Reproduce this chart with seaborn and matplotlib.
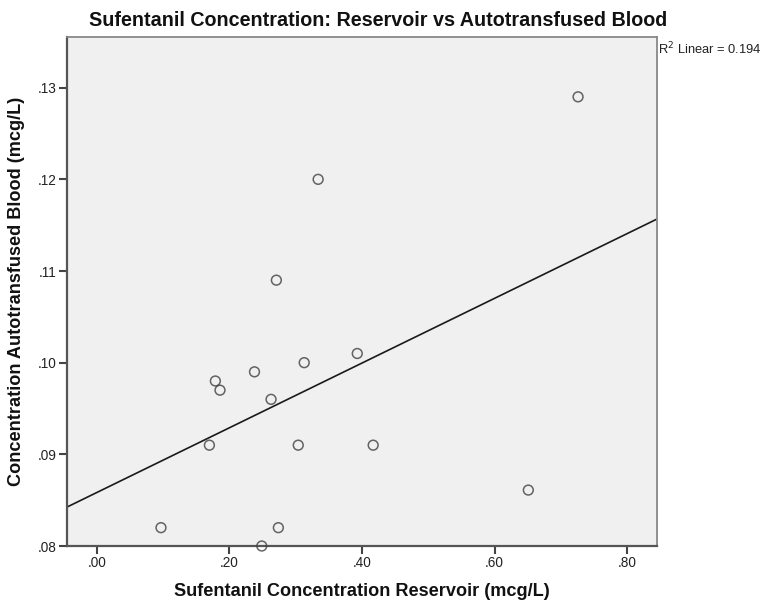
import matplotlib
matplotlib.use("Agg")
import matplotlib.pyplot as plt
import numpy as np
import pandas as pd
import seaborn as sns
from matplotlib.ticker import FuncFormatter

# Sufentanil concentrations (mcg/L)
reservoir = [0.097, 0.170, 0.179, 0.186, 0.238, 0.249, 0.263, 0.271,
             0.274, 0.304, 0.313, 0.334, 0.393, 0.417, 0.651, 0.726]
autotransfused = [0.082, 0.091, 0.098, 0.097, 0.099, 0.080, 0.096, 0.109,
                  0.082, 0.091, 0.100, 0.120, 0.101, 0.091, 0.0861, 0.129]

x_ticks = [0.0, 0.2, 0.4, 0.6, 0.8]
y_ticks = [0.08, 0.09, 0.10, 0.11, 0.12, 0.13]

df = pd.DataFrame({"reservoir": reservoir, "autotransfused": autotransfused})

sns.set_theme(style="white")
plt.rcParams["font.family"] = ["Liberation Sans", "DejaVu Sans"]

W, H = 764, 602
fig = plt.figure(figsize=(W / 100, H / 100), dpi=100)
ax = fig.add_axes([66.7 / W, 56 / H, 590 / W, 509.3 / H])
ax.set_facecolor("#F0F0F0")

xlim = (-0.0452, 0.8446)
ylim = (0.08, 0.13556)
ax.set_xlim(*xlim)
ax.set_ylim(*ylim)

sns.regplot(data=df, x="reservoir", y="autotransfused", ax=ax, ci=None,
            truncate=False,
            scatter_kws=dict(s=50, facecolors="none", edgecolors="#404040",
                             linewidths=1.1, zorder=3, clip_on=False),
            line_kws=dict(color="#1a1a1a", linewidth=1.2, zorder=2))
ax.set_xlim(*xlim)
ax.set_ylim(*ylim)

r = np.corrcoef(reservoir, autotransfused)[0, 1]

ax.set_xticks(x_ticks)
ax.set_yticks(y_ticks)
ax.xaxis.set_major_formatter(FuncFormatter(lambda v, p: f"{v:.2f}"[1:]))
ax.yaxis.set_major_formatter(FuncFormatter(lambda v, p: f"{v:.2f}"[1:]))
ax.tick_params(axis="both", which="major", direction="out", length=6, width=1.5,
               color="#444444", labelsize=9.8, labelcolor="#222222", pad=1,
               bottom=True, left=True)

for side in ["left", "bottom"]:
    ax.spines[side].set_color("#555555")
    ax.spines[side].set_linewidth(1.6)
for side in ["top", "right"]:
    ax.spines[side].set_color("#888888")
    ax.spines[side].set_linewidth(1.3)

ax.set_xlabel("")
ax.set_ylabel("")
fig.text(362 / W, 1 - 592 / H, "Sufentanil Concentration Reservoir (mcg/L)",
         fontsize=13.1, fontweight="bold", color="#111111",
         ha="center", va="center")
fig.text(17 / W, 1 - 291 / H, "Concentration Autotransfused Blood (mcg/L)",
         fontsize=13.1, fontweight="bold", color="#111111", rotation=90,
         ha="center", va="center")

fig.text(378 / W, 1 - 21 / H,
         "Sufentanil Concentration: Reservoir vs Autotransfused Blood",
         fontsize=14.2, fontweight="bold", color="#111111",
         ha="center", va="center")

fig.text(658 / W, 1 - 49 / H, f"R$^2$ Linear = {r**2:.3f}", fontsize=9.3,
         color="#222222", ha="left", va="center")

fig.savefig("out.png", dpi=100)
